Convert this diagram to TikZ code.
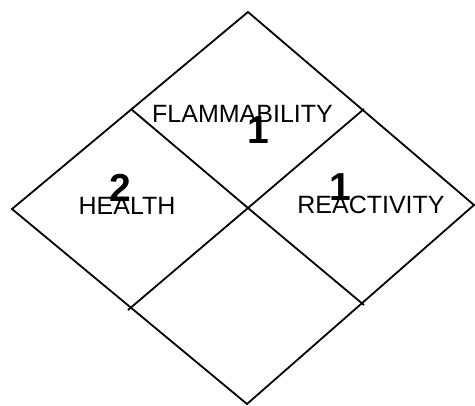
\documentclass[tikz,border=0pt]{standalone}
\usepackage{fontspec}
\setmainfont{Liberation Sans}
\begin{document}
\begin{tikzpicture}[x=1pt,y=-1pt,
  edge/.style={line width=1.8pt,black},
  label/.style={font=\fontsize{25}{25}\selectfont,inner sep=0pt,anchor=center},
  num/.style={font=\fontsize{39}{39}\selectfont\bfseries,inner sep=0pt,anchor=center}]
\useasboundingbox (0,0) rectangle (475,406);
\coordinate (T) at (248,12);
\coordinate (L) at (12,209);
\coordinate (R) at (474,205);
\coordinate (B) at (247,404);
\coordinate (C) at (248,208);
\coordinate (UL) at (131,109);
\coordinate (UR) at (364,109);
\coordinate (LL) at (128,310);
\coordinate (LR) at (364,305);
\draw[edge,line join=miter] (T) -- (R) -- (B) -- (L) -- cycle;
\draw[edge] (UL) -- (C) -- (LR);
\draw[edge] (UR) -- (C) -- (LL);
\node[label] (flam) at (242.5,114) {FLAMMABILITY};
\node[label] (health) at (127,206) {HEALTH};
\node[label] (react) at (371,205) {REACTIVITY};
\node[num] (nf) at (258,130) {1};
\node[num] (nh) at (120.5,188) {2};
\node[num] (nr) at (340,187) {1};
\end{tikzpicture}
\end{document}
